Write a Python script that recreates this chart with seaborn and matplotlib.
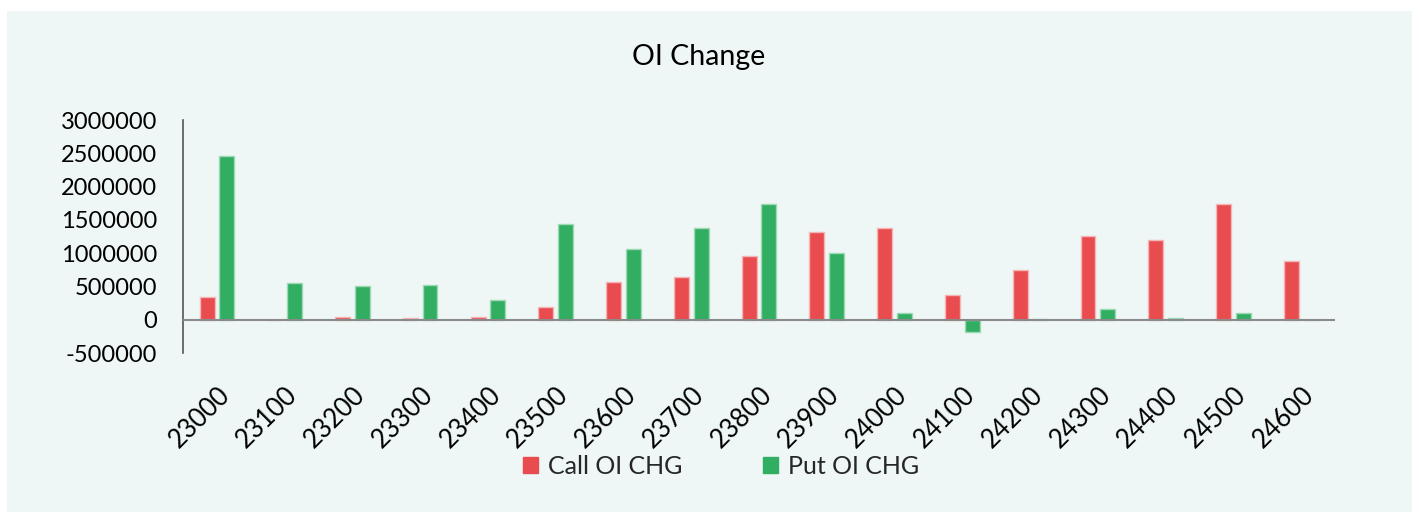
import matplotlib
matplotlib.use("Agg")
import matplotlib.pyplot as plt
import matplotlib.patches as mpatches
import seaborn as sns
import pandas as pd

strikes = ["23000", "23100", "23200", "23300", "23400", "23500", "23600", "23700", "23800",
           "23900", "24000", "24100", "24200", "24300", "24400", "24500", "24600"]
call_oi_chg = [345000, 0, 45000, 25000, 35000, 195000, 570000, 645000, 960000,
               1320000, 1380000, 375000, 750000, 1260000, 1200000, 1740000, 885000]
put_oi_chg = [2460000, 555000, 500000, 525000, 300000, 1440000, 1065000, 1380000, 1740000,
              1005000, 95000, -190000, 15000, 160000, 25000, 95000, 0]
series_names = ["Call OI CHG", "Put OI CHG"]
yticks = [-500000, 0, 500000, 1000000, 1500000, 2000000, 2500000, 3000000]

df = pd.DataFrame({
    "Strike": strikes * 2,
    "Value": call_oi_chg + put_oi_chg,
    "Series": [series_names[0]] * len(strikes) + [series_names[1]] * len(strikes),
})

sns.set_theme(style="white")
plt.rcParams["font.family"] = ["Lato", "DejaVu Sans"]

RED = "#E84C4F"
GREEN = "#31AE62"
BG = "#EEF7F5"
FS = 17

fig = plt.figure(figsize=(14.19, 5.14), dpi=100)
fig.patch.set_facecolor("white")

bg = fig.add_axes([7 / 1419, 2 / 514, 1405 / 1419, 501 / 514], zorder=-10)
bg.set_facecolor(BG)
bg.set_xticks([])
bg.set_yticks([])
for s in bg.spines.values():
    s.set_visible(False)

ax = fig.add_axes([183 / 1419, (514 - 353) / 514, (1335 - 183) / 1419, 233 / 514], zorder=1)
ax.set_facecolor("none")

sns.barplot(data=df, x="Strike", y="Value", hue="Series", order=strikes,
            hue_order=series_names, palette=[RED, GREEN], width=0.58, gap=0.24,
            ax=ax, legend=False, linewidth=1, saturation=1)
for i, p in enumerate(ax.patches):
    if i >= len(strikes):
        p.set_edgecolor("#9ED9B5")
    else:
        p.set_edgecolor("#F5B5B6")

ax.set_xlim(-0.5, len(strikes) - 0.5)
ax.set_ylim(-500000, 3000000)
ax.set_yticks(yticks)
ax.set_yticklabels([str(v) for v in yticks], fontsize=FS)
ax.axhline(0, color="#8A8A8A", linewidth=1.5, zorder=3)

for s in ["top", "right", "bottom"]:
    ax.spines[s].set_visible(False)
ax.spines["left"].set_color("#555555")
ax.spines["left"].set_linewidth(1.2)

ax.tick_params(axis="y", length=0, pad=18.5, colors="black")
ax.tick_params(axis="x", length=0, pad=21, colors="black")
ax.set_xticks(range(len(strikes)))
ax.set_xticklabels(strikes, rotation=45, ha="right", rotation_mode="anchor", fontsize=18.5)
ax.set_xlabel("")
ax.set_ylabel("")

fig.text(699 / 1419, 1 - 57 / 514, "OI Change", ha="center", va="center", fontsize=20.5,
         color="black")

handles = [mpatches.Patch(color=RED, label=series_names[0]),
           mpatches.Patch(color=GREEN, label=series_names[1])]
leg = fig.legend(handles=handles, loc="center", bbox_to_anchor=(721 / 1419, 1 - 466 / 514),
                 ncol=2, frameon=False, fontsize=18, handlelength=0.63, handleheight=0.63,
                 handletextpad=0.4, columnspacing=3.2)

fig.savefig("out.png", dpi=100, facecolor="white")
